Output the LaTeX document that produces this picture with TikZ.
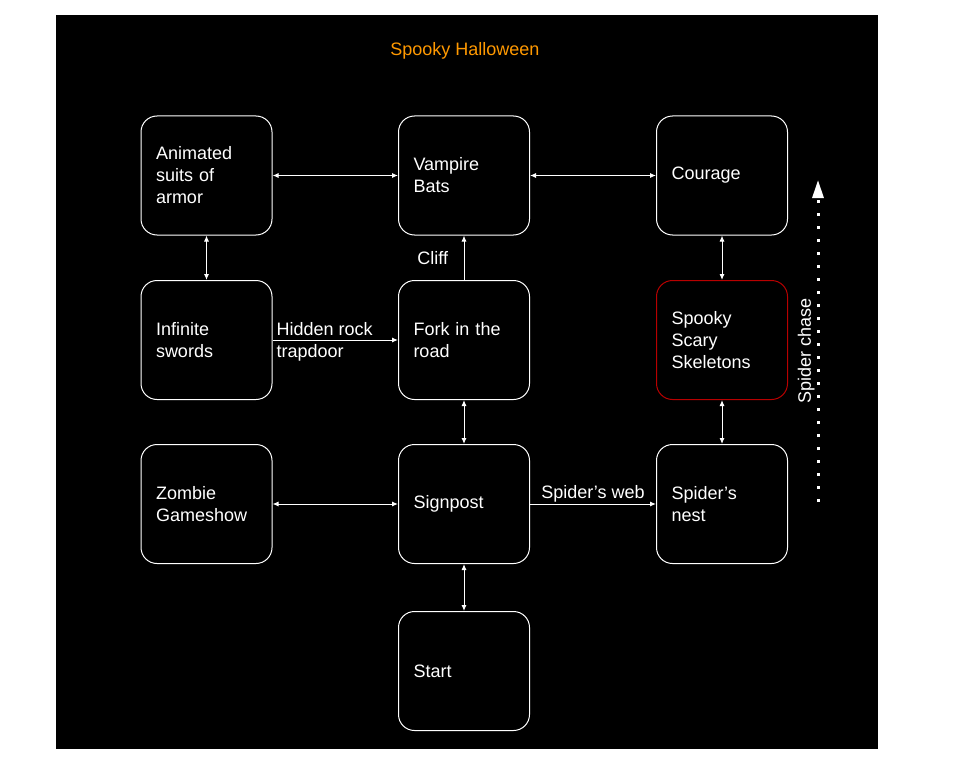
\documentclass[tikz,border=0pt]{standalone}
\usepackage{fontspec}
\setmainfont{Liberation Sans}
\usepackage{tikz}
\usetikzlibrary{arrows.meta,positioning}
\definecolor{spookyorange}{HTML}{FF9900}
\definecolor{bonered}{HTML}{B80000}

\begin{document}
\begin{tikzpicture}[x=1pt, y=-1pt,
  room/.style={draw=white, line width=1pt, rounded corners=16pt, minimum width=131pt, minimum height=119pt,
    text width=101pt, inner xsep=15pt, align=left, text=white, font=\fontsize{18}{22}\selectfont},
  link/.style={draw=white, line width=1pt, {Latex[length=6pt,width=5pt]}-{Latex[length=6pt,width=5pt]}},
  oneway/.style={draw=white, line width=1pt, -{Latex[length=6pt,width=5pt]}},
  lbl/.style={text=white, font=\fontsize{18}{22}\selectfont}]
  \useasboundingbox (0,0) rectangle (955,765);
  \fill[white] (0,0) rectangle (955,765);
  \fill[black] (56,15) rectangle (878,749);

  \node[text=spookyorange, font=\fontsize{18}{22}\selectfont] (title) at (465,51) {Spooky Halloween};

  % Rooms
  \node[room] (armor) at (206.5,175.5) {Animated\\suits of\\armor};
  \node[room] (bats) at (464,175.5) {Vampire\\Bats};
  \node[room] (courage) at (722,175.5) {Courage};
  \node[room] (swords) at (206.5,340) {Infinite\\swords};
  \node[room] (fork) at (464,340) {Fork in the\\road};
  \node[room, draw=bonered] (skeletons) at (722,340) {Spooky\\Scary\\Skeletons};
  \node[room] (zombie) at (206.5,504) {Zombie\\Gameshow};
  \node[room] (signpost) at (464,504) {Signpost};
  \node[room] (nest) at (722,504) {Spider’s\\nest};
  \node[room] (start) at (464,671) {Start};

  % Paths
  \draw[link] (armor) -- (bats);
  \draw[link] (bats) -- (courage);
  \draw[link] (armor) -- (swords);
  \draw[link] (courage) -- (skeletons);
  \draw[link] (skeletons) -- (nest);
  \draw[link] (fork) -- (signpost);
  \draw[link] (signpost) -- (start);
  \draw[link] (zombie) -- (signpost);
  \draw[oneway] (fork) -- node[midway, left=12pt, lbl] {Cliff} (bats);
  \draw[oneway] (swords) -- (fork);
  \node[lbl, right, align=left, inner sep=4pt, yshift=-2pt] (trapdoor) at (swords.east) {Hidden rock\\trapdoor};
  \draw[oneway] (signpost) -- node[midway, above, inner sep=1pt, lbl] {Spider’s web} (nest);

  % Chase
  \coordinate (chasefrom) at (818,502);
  \coordinate (chaseto) at (818,180);
  \draw[white, line width=3pt, dash pattern=on 3pt off 10pt, -{Triangle[length=18pt,width=11pt]}]
    (chasefrom) -- node[pos=0.47, sloped, above, inner sep=2pt, lbl] {Spider chase} (chaseto);
\end{tikzpicture}
\end{document}
